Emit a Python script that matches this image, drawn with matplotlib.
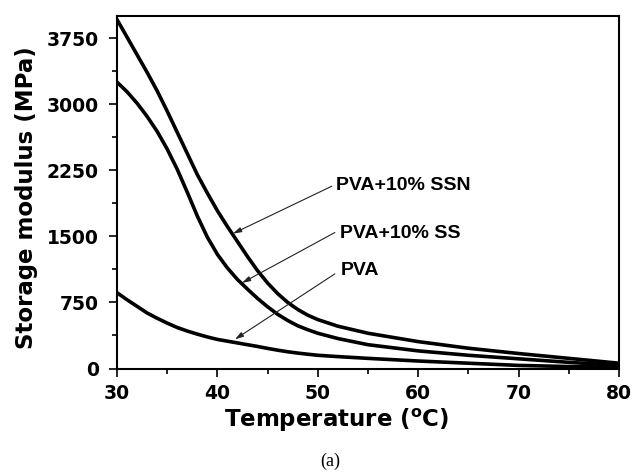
import matplotlib
matplotlib.use("Agg")
import matplotlib.pyplot as plt
from matplotlib.ticker import MultipleLocator

plt.rcParams['font.family'] = ['Liberation Sans', 'DejaVu Sans']

temperature = [30, 31, 32, 33, 34, 35, 36, 37, 38, 39, 40, 41, 42, 43, 44, 45, 46, 47, 48, 49, 50,
               52, 55, 60, 65, 70, 75, 80]
ssn = [3960, 3760, 3560, 3360, 3150, 2920, 2680, 2440, 2200, 1990, 1790, 1610, 1440, 1270, 1110, 970, 850, 750, 670, 605, 555,
       480, 400, 305, 230, 170, 115, 60]
ss = [3250, 3140, 3010, 2860, 2690, 2490, 2260, 2000, 1730, 1490, 1295, 1140, 1010, 900, 795, 700, 615, 545, 485, 440, 400,
      340, 270, 200, 150, 110, 70, 35]
pva = [860, 780, 705, 630, 570, 515, 465, 425, 390, 358, 330, 310, 290, 270, 250, 228, 208, 190, 175, 162, 150,
       135, 115, 85, 60, 35, 22, 15]

labels = ["PVA+10% SSN", "PVA+10% SS", "PVA"]
label_xy = [(51.8, 2080), (52.2, 1531), (52.3, 1109)]
arrow_tip = [(41.55, 1531), (42.45, 971), (41.75, 331)]
arrow_tail = [(51.4, 2069), (51.7, 1543), (51.7, 1074)]

fig = plt.figure(figsize=(6.36, 4.72), dpi=100)
ax = fig.add_axes([117/636, 1 - 368.5/472, 502/636, 352.5/472])

for series in (ssn, ss, pva):
    ax.plot(temperature, series, color='black', lw=2.6, solid_joinstyle='round')

ax.set_xlim(30, 80)
ax.set_ylim(0, 4000)
ax.xaxis.set_major_locator(MultipleLocator(10))
ax.xaxis.set_minor_locator(MultipleLocator(5))
ax.yaxis.set_major_locator(MultipleLocator(750))
ax.yaxis.set_minor_locator(MultipleLocator(375))
ax.tick_params(which='both', direction='out', width=1.2, top=False, right=False)
ax.tick_params(which='major', length=6, labelsize=13.5)
ax.tick_params(which='minor', length=3.5)
ax.tick_params(axis='x', which='major', pad=5)
ax.tick_params(axis='y', which='major', pad=7)
for lab in ax.get_xticklabels() + ax.get_yticklabels():
    lab.set_fontweight('bold')
    lab.set_family(['DejaVu Sans'])
for sp in ax.spines.values():
    sp.set_linewidth(1.5)

ax.set_xlabel("Temperature ($\\mathregular{^o}$C)", fontsize=16.5, fontweight='bold',
              family=['DejaVu Sans'], va='top')
ax.xaxis.set_label_coords(0.438, -0.108)
ax.set_ylabel("Storage modulus (MPa)", fontsize=16.5, fontweight='bold', family=['DejaVu Sans'])
ax.yaxis.set_label_coords(-0.158, 0.486)

for lab, (tx, ty), tip, tail in zip(labels, label_xy, arrow_tip, arrow_tail):
    ax.text(tx, ty, lab, fontsize=14, fontweight='bold', va='center', ha='left')
    ax.annotate("", xy=tip, xytext=tail,
                arrowprops=dict(arrowstyle='-|>,head_length=0.5,head_width=0.15',
                                color='#222222', lw=0.8, shrinkA=0, shrinkB=0))

fig.text(330/636, 1 - 461/472, "(a)", fontsize=13, family=['Liberation Serif'], ha='center', va='center')

fig.savefig("out.png", dpi=100)
